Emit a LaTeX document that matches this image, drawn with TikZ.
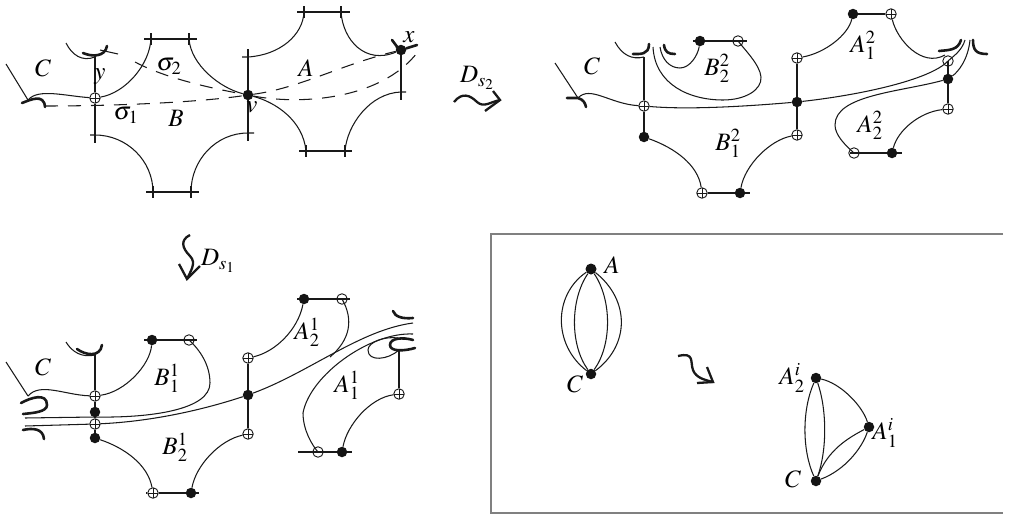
\documentclass[tikz,border=0pt]{standalone}
\usepackage{amsmath}
\usepackage{mathptmx}
\tikzset{
  curve/.style={line width=1.05pt, black!90},
  hook/.style={line width=2.6pt, black!90, line cap=round},
  dashline/.style={line width=1.05pt, black!90, dash pattern=on 13pt off 10pt},
  squig/.style={line width=2.3pt, black!90},
  filldot/.style={circle, fill=black!92, inner sep=0pt, minimum size=10.5pt},
  opendot/.style={circle, draw=black!90, line width=0.9pt, inner sep=0pt, minimum size=10.5pt,
    path picture={\draw[line width=0.9pt, black!90] (path picture bounding box.north) -- (path picture bounding box.south)
      (path picture bounding box.west) -- (path picture bounding box.east);}},
  slashdot/.style={circle, draw=black!90, line width=0.9pt, inner sep=0pt, minimum size=10.5pt},
  lab/.style={inner sep=0pt, font=\fontsize{25}{28}\selectfont}
}
\begin{document}
\begin{tikzpicture}[x=1pt,y=-1pt]
\useasboundingbox (0,0) rectangle (1009,514);

\node[opendot] (ya) at (95,98) {};
\node[filldot] (va) at (248,95) {};
\node[filldot] (xa) at (401,50) {};
\draw[curve] (95,56) -- (ya) -- (95,143);
\draw[curve] (248,49) -- (va) -- (248,141);
\draw[curve] (xa) -- (401,100);
\draw[curve] (6,64) -- (28,100);
\draw[curve] (28,100) .. controls (38,88) and (65,96) .. (ya);
\draw[curve] (66,43) .. controls (72,55) and (82,62) .. (95,57);
\draw[curve] (100,50) -- (118,54);
\draw[curve] (90,135) -- (95,135) .. controls (127,135) and (153,161) .. (153,192);
\draw[curve] (146,192) -- (199,192);
\draw[curve] (191,192) .. controls (191,160) and (216,133) .. (248,133) -- (254,133);
\draw[curve] (ya) .. controls (125,93) and (150,65) .. (151,38);
\draw[curve] (144,39) -- (197,39);
\draw[curve] (189,39) .. controls (191,65) and (220,88) .. (va);
\draw[curve] (242,57) -- (248,57) .. controls (280,55) and (303,35) .. (304,12);
\draw[curve] (297,12) -- (350,12);
\draw[curve] (341,12) .. controls (343,40) and (365,65) .. (xa);
\draw[curve] (406,92) -- (401,92) .. controls (370,93) and (347,125) .. (345,151);
\draw[curve] (299,151) -- (352,151);
\draw[curve] (306,151) .. controls (303,120) and (275,102) .. (va);
\foreach \x/\y in {151/39,189/39,153/192,191/192,304/12,341/12,306/151,345/151}
  \draw[curve] (\x,\y-6) -- (\x,\y+6);
\draw[dashline] (45,106) .. controls (120,106) and (200,102) .. (va);
\draw[dashline] (135,62) .. controls (165,78) and (210,88) .. (va);
\draw[dashline] (va) .. controls (300,88) and (340,65) .. (xa);
\draw[dashline] (va) .. controls (300,105) and (380,100) .. (417,53);
\draw[hook] (22,103) .. controls (30,100) and (44,93) .. (45,107);
\draw[hook] (83,53) .. controls (92,57) and (105,57) .. (107,46);
\draw[hook] (392,40) -- (398,48) -- (xa) -- (417,45);
\node[lab] (Ca) at (43,68) {$C$};
\node[lab] (ylab) at (100,77) {$y$};
\node[lab] (s2a) at (169,66) {$\sigma_2$};
\node[lab] (Aa) at (306,68) {$A$};
\node[lab] (xlab) at (409,37) {$x$};
\node[lab] (s1a) at (126,115) {$\sigma_1$};
\node[lab] (Ba) at (176,118) {$B$};
\node[lab] (vlab) at (252,107) {$v$};

\node[opendot] (yb) at (644,106) {};
\node[filldot] (yc) at (644,137) {};
\node[opendot] (b1) at (702,193) {};
\node[filldot] (b2) at (740,193) {};
\node[opendot] (b3) at (797,135) {};
\node[filldot] (vb) at (797,102) {};
\node[opendot] (b4) at (797,58) {};
\node[filldot] (b5) at (853,14) {};
\node[opendot] (b6) at (891,14) {};
\node[slashdot] (b7) at (948,61) {};
\node[filldot] (b8) at (948,79) {};
\node[opendot] (b9) at (948,109) {};
\node[filldot] (b10) at (892,153) {};
\node[slashdot] (b11) at (854,153) {};
\node[filldot] (b12) at (700,41) {};
\node[slashdot] (b13) at (738,41) {};
\draw[curve] (644,57) -- (yb) -- (yc);
\draw[curve] (yc) .. controls (675,148) and (698,165) .. (b1);
\draw[curve] (b1) -- (b2) -- (750,193);
\draw[curve] (b2) .. controls (745,165) and (770,140) .. (b3);
\draw[curve] (b3) -- (vb) -- (b4);
\draw[curve] (b4) .. controls (825,53) and (848,35) .. (b5);
\draw[curve] (b5) -- (b6);
\draw[curve] (b6) .. controls (897,40) and (922,68) .. (945,55);
\draw[curve] (b7.center) -- (b8) -- (b9);
\draw[curve] (b9) .. controls (920,112) and (898,130) .. (b10);
\draw[curve] (b10) -- (b11.center) -- (850,153);
\draw[curve] (b10) -- (902,153);
\draw[curve] (b8) .. controls (900,92) and (835,95) .. (835,125) .. controls (835,135) and (845,145) .. (b11.center);
\draw[curve] (b8) .. controls (958,72) and (968,60) .. (970,40);
\draw[curve] (555,63) -- (578,98);
\draw[curve] (578,98) .. controls (590,85) and (610,104) .. (yb);
\draw[curve] (yb) .. controls (690,110) and (750,106) .. (vb);
\draw[curve] (vb) .. controls (860,95) and (930,80) .. (b7.center) .. controls (955,55) and (962,50) .. (965,40);
\draw[curve] (615,42) .. controls (622,55) and (632,60) .. (644,57);
\draw[curve] (653,47) .. controls (655,85) and (690,100) .. (723,100) .. controls (745,100) and (762,90) .. (761,77) .. controls (760,65) and (745,50) .. (b13.center);
\draw[curve] (660,47) .. controls (662,60) and (670,68) .. (680,68) .. controls (690,68) and (698,55) .. (b12);
\draw[curve] (693,41) -- (b12) -- (b13.center) -- (747,41);
\draw[hook] (567,98) -- (578,98) .. controls (584,100) and (585,103) .. (586,107);
\draw[hook] (633,54) .. controls (640,54) and (649,55) .. (649,44);
\draw[hook] (664,45) .. controls (665,52) and (668,54) .. (675,54);
\draw[hook] (939,51) .. controls (950,50) and (958,50) .. (961,40);
\draw[hook] (973,40) .. controls (973,50) and (976,54) .. (987,54);
\node[lab] (Cb) at (592,66) {$C$};
\node[lab] (B22) at (717,68) {$B_2^2$};
\node[lab] (A12) at (863,45) {$A_1^2$};
\node[lab] (A22) at (870,125) {$A_2^2$};
\node[lab] (B12) at (728,143) {$B_1^2$};

\node[opendot] (c1) at (95,396) {};
\node[filldot] (c2) at (95,412) {};
\node[opendot] (c3) at (95,424) {};
\node[filldot] (c4) at (95,438) {};
\node[opendot] (c5) at (153,493) {};
\node[filldot] (c6) at (191,493) {};
\node[opendot] (c7) at (248,434) {};
\node[filldot] (vc) at (248,395) {};
\node[opendot] (c8) at (248,358) {};
\node[filldot] (c9) at (304,299) {};
\node[slashdot] (c10) at (342,299) {};
\node[filldot] (c11) at (152,340) {};
\node[slashdot] (c12) at (189,340) {};
\node[opendot] (c13) at (399,394) {};
\node[filldot] (c14) at (342,452) {};
\node[slashdot] (c15) at (318,452) {};
\draw[curve] (95,355) -- (c1) -- (c2) -- (c3) -- (c4);
\draw[curve] (c4) .. controls (125,448) and (148,465) .. (c5);
\draw[curve] (146,493) -- (c5) -- (c6) -- (199,493);
\draw[curve] (c6) .. controls (196,465) and (220,440) .. (c7);
\draw[curve] (c7) -- (vc) -- (c8);
\draw[curve] (c8) .. controls (275,352) and (298,330) .. (c9);
\draw[curve] (297,299) -- (c9) -- (c10.center) -- (350,299);
\draw[curve] (c10.center) .. controls (354,320) and (350,340) .. (330,357);
\draw[curve] (6,362) -- (28,396);
\draw[curve] (28,396) .. controls (40,382) and (65,395) .. (c1);
\draw[curve] (66,342) .. controls (72,352) and (82,358) .. (95,355);
\draw[curve] (c1) .. controls (125,392) and (150,365) .. (c11);
\draw[curve] (144,340) -- (c11) -- (c12.center) -- (197,340);
\draw[curve] (25,418) -- (95,417) .. controls (150,418) and (210,410) .. (210,383) .. controls (210,365) and (200,350) .. (c12.center);
\draw[curve] (25,426) -- (c3) .. controls (140,422) and (190,414) .. (vc);
\draw[curve] (vc) .. controls (310,372) and (360,330) .. (413,323);
\draw[curve] (413,334) .. controls (370,332) and (310,375) .. (303,413) .. controls (303,430) and (312,445) .. (c15.center);
\draw[curve] (298,452) -- (c15.center) -- (c14) -- (352,452);
\draw[curve] (c14) .. controls (347,425) and (370,398) .. (c13);
\draw[curve] (c13) -- (399,350);
\draw[curve] (398,338) .. controls (385,336) and (368,342) .. (368,350) .. controls (368,362) and (388,360) .. (399,350);
\draw[hook] (21,403) .. controls (30,398) and (47,392) .. (47,405) .. controls (47,412) and (33,413) .. (23,414);
\draw[hook] (23,430) .. controls (32,428) and (43,428) .. (44,439);
\draw[hook] (77,349) .. controls (85,355) and (100,358) .. (102,345);
\draw[hook] (393,311) .. controls (395,317) and (403,319) .. (413,318);
\draw[hook] (415,348) .. controls (405,351) and (390,352) .. (390,345) .. controls (390,338) and (403,337) .. (413,340);
\node[lab] (Cc) at (43,367) {$C$};
\node[lab] (B11) at (167,378) {$B_1^1$};
\node[lab] (A21) at (307,332) {$A_2^1$};
\node[lab] (A11) at (347,385) {$A_1^1$};
\node[lab] (B21) at (175,447) {$B_2^1$};

\draw[squig] (454,102) .. controls (462,92) and (470,95) .. (477,102) .. controls (484,108) and (490,102) .. (500,100);
\draw[squig] (493,91) -- (500,100) -- (485,111);
\node[lab] (Ds2) at (477,78) {$D_{s_2}$};
\draw[squig] (190,235) .. controls (180,240) and (182,248) .. (190,256) .. controls (197,263) and (190,272) .. (187,279);
\draw[squig] (179,264) -- (187,279) -- (200,266);
\node[lab] (Ds1) at (218,261) {$D_{s_1}$};

\draw[gray, line width=1.8pt] (1003,234) -- (491,234) -- (491,513) -- (1003,513);
\node[filldot, minimum size=11pt] (Ad) at (591,269) {};
\node[filldot] (Cd) at (591,374) {};
\draw[curve] (Ad) .. controls (553,295) and (553,345) .. (Cd);
\draw[curve] (Ad) .. controls (570,300) and (570,345) .. (Cd);
\draw[curve] (Ad) .. controls (612,300) and (612,345) .. (Cd);
\draw[curve] (Ad) .. controls (630,300) and (630,345) .. (Cd);
\draw[squig] (678,356) .. controls (695,352) and (690,362) .. (693,370) .. controls (696,378) and (705,380) .. (713,382);
\draw[squig] (707,367) -- (713,382) -- (697,383);
\node[lab] (Ae) at (612,265) {$A$};
\node[lab] (Ce) at (575,384) {$C$};
\node[filldot] (A2i) at (816,378) {};
\node[filldot] (A1i) at (869,427) {};
\node[filldot] (Cf) at (816,481) {};
\draw[curve] (A2i) .. controls (802,410) and (802,450) .. (Cf);
\draw[curve] (A2i) .. controls (827,410) and (827,450) .. (Cf);
\draw[curve] (A2i) .. controls (840,383) and (862,405) .. (A1i);
\draw[curve] (Cf) .. controls (828,450) and (848,438) .. (A1i);
\draw[curve] (Cf) .. controls (845,470) and (862,448) .. (A1i);
\node[lab] (A2l) at (792,378) {$A_2^i$};
\node[lab] (A1l) at (885,433) {$A_1^i$};
\node[lab] (Cg) at (793,479) {$C$};
\end{tikzpicture}
\end{document}
